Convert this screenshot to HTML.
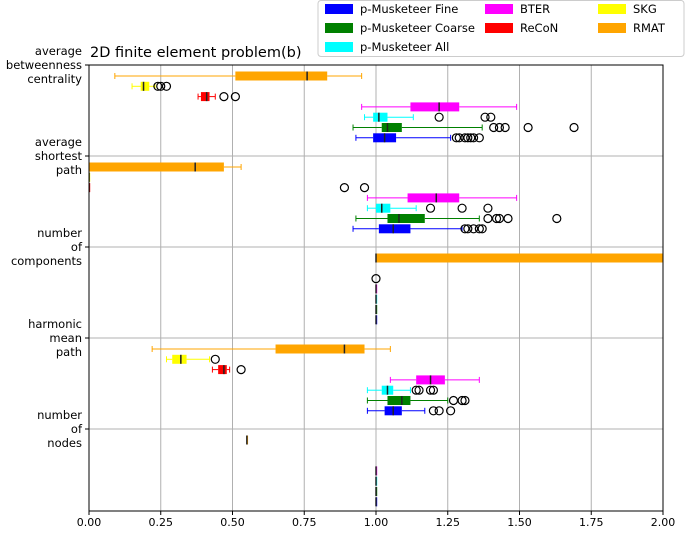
<!DOCTYPE html>
<html><head><meta charset="utf-8"><style>
body{margin:0;background:#fff;font-family:"Liberation Sans","DejaVu Sans",sans-serif}
</style></head><body>
<svg id="chart" width="685" height="531" xmlns="http://www.w3.org/2000/svg" font-family="DejaVu Sans, Liberation Sans, sans-serif">
<defs><clipPath id="plotclip"><rect x="89" y="65" width="574" height="446"/></clipPath></defs>
<rect width="685" height="531" fill="#fff"/>
<g id="grid"></g>
<g id="marks" clip-path="url(#plotclip)"></g>
<g id="axes"></g>
<text x="90" y="57" font-size="14.5" fill="#000">2D finite element problem(b)</text>
<g id="legend"></g>
</svg>
<script>
const metrics=["average betweenness centrality","average shortest path","number of components","harmonic mean path","number of nodes"];
const metricLines=[["average","betweenness","centrality"],["average","shortest","path"],["number","of","components"],["harmonic","mean","path"],["number","of","nodes"]];
const seriesNames=["RMAT","SKG","ReCoN","BTER","p-Musketeer All","p-Musketeer Coarse","p-Musketeer Fine"];
const seriesColors=["#ffa500","#ffff00","#ff0000","#ff00ff","#00ffff","#008000","#0000ff"];
const xTicks=[0,0.25,0.5,0.75,1.0,1.25,1.5,1.75,2.0];
const xTickLabels=["0.00","0.25","0.50","0.75","1.00","1.25","1.50","1.75","2.00"];
// [lo,q1,med,q3,hi] per metric per series (null = absent)
const statsBetweenness=[[0.09,0.51,0.76,0.83,0.95],[0.15,0.18,0.19,0.21,0.23],[0.38,0.39,0.41,0.42,0.44],[0.95,1.12,1.22,1.29,1.49],[0.96,0.99,1.01,1.04,1.13],[0.92,1.02,1.04,1.09,1.37],[0.93,0.99,1.03,1.07,1.26]];
const outBetweenness=[[],[0.24,0.25,0.27],[0.47,0.51],[],[1.22,1.38,1.40],[1.41,1.43,1.45,1.53,1.69],[1.28,1.29,1.31,1.32,1.33,1.34,1.36]];
const statsShortest=[[0,0,0.37,0.47,0.53],[0,0,0,0,0],[0,0,0,0,0],[0.97,1.11,1.21,1.29,1.49],[0.97,1.0,1.02,1.05,1.14],[0.93,1.04,1.08,1.17,1.36],[0.92,1.01,1.06,1.12,1.30]];
const outShortest=[[],[],[0.89,0.96],[],[1.19,1.30,1.39],[1.39,1.42,1.43,1.46,1.63],[1.31,1.32,1.34,1.36,1.37]];
const statsComponents=[[1,1,1,2.05,2.05],null,null,[1,1,1,1,1],[1,1,1,1,1],[1,1,1,1,1],[1,1,1,1,1]];
const outComponents=[[],[],[1.0],[],[],[],[]];
const statsHarmonic=[[0.22,0.65,0.89,0.96,1.05],[0.27,0.29,0.32,0.34,0.42],[0.43,0.45,0.47,0.48,0.49],[1.05,1.14,1.19,1.24,1.36],[0.97,1.02,1.04,1.06,1.12],[0.97,1.04,1.09,1.12,1.25],[0.97,1.03,1.06,1.09,1.17]];
const outHarmonic=[[],[0.44],[0.53],[],[1.14,1.15,1.19,1.20],[1.27,1.30,1.31],[1.20,1.22,1.26]];
const statsNodes=[[0.55,0.55,0.55,0.55,0.55],null,null,[1,1,1,1,1],[1,1,1,1,1],[1,1,1,1,1],[1,1,1,1,1]];
const outNodes=[[],[],[],[],[],[],[]];
const allStats=[statsBetweenness,statsShortest,statsComponents,statsHarmonic,statsNodes];
const allOut=[outBetweenness,outShortest,outComponents,outHarmonic,outNodes];

const X0=89,X1=663,Y0=65,Y1=511,GH=91;
const xs=v=>X0+(v/2)*(X1-X0);
const ys=(g,i)=>Y0+GH*g+11+i*10.3;
const NS="http://www.w3.org/2000/svg";
function mk(tag,attrs,parent){const e=document.createElementNS(NS,tag);for(const k in attrs)e.setAttribute(k,attrs[k]);parent.appendChild(e);return e;}
const grid=document.getElementById('grid'),marks=document.getElementById('marks'),axes=document.getElementById('axes'),legend=document.getElementById('legend');

xTicks.forEach((t,i)=>{
  const l=mk('line',{x1:xs(t),x2:xs(t),y1:Y0,y2:Y1,stroke:'#b0b0b0','stroke-width':1},grid);
  
  
  mk('line',{x1:xs(t),x2:xs(t),y1:Y1,y2:Y1+4,stroke:'#000'},axes);
  const tx=mk('text',{x:xs(t),y:Y1+15,'font-size':11,'text-anchor':'middle'},axes);
  tx.textContent=xTickLabels[i];
  
  
});
metrics.forEach((m,g)=>{
  const y=Y0+GH*g;
  const l=mk('line',{x1:X0,x2:X1,y1:y,y2:y,stroke:'#b0b0b0'},grid);
  
  
  mk('line',{x1:X0-4,x2:X0,y1:y,y2:y,stroke:'#000'},axes);
  const lines=metricLines[g];
  lines.forEach((s,k)=>{
    const tx=mk('text',{x:82,y:y+4+(k-1)*14,'font-size':11.5,'text-anchor':'end'},axes);
    tx.textContent=s;
    
    
  });
  allStats[g].forEach((st,i)=>{
    const yc=ys(g,i),c=seriesColors[i];
    if(st){
      const grp=mk('g',{},marks);
      
      
      mk('line',{x1:xs(st[0]),x2:xs(st[1]),y1:yc,y2:yc,stroke:c},grp);
      mk('line',{x1:xs(st[3]),x2:xs(st[4]),y1:yc,y2:yc,stroke:c},grp);
      if(st[4]-st[0]>0.005){
        mk('line',{x1:xs(st[0]),x2:xs(st[0]),y1:yc-3,y2:yc+3,stroke:c},grp);
        mk('line',{x1:xs(st[4]),x2:xs(st[4]),y1:yc-3,y2:yc+3,stroke:c},grp);
      }
      const w=Math.max(xs(st[3])-xs(st[1]),1.2);
      mk('rect',{x:xs(st[1]),y:yc-4.5,width:w,height:9,fill:c},grp);
      mk('line',{x1:xs(st[2]),x2:xs(st[2]),y1:yc-4.5,y2:yc+4.5,stroke:'#222','stroke-width':1.5},grp);
    }
    allOut[g][i].forEach(v=>{
      const o=mk('circle',{cx:xs(v),cy:yc,r:4,fill:'none',stroke:'#000','stroke-width':1.2},marks);
      
      
    });
  });
});
mk('rect',{x:X0,y:Y0,width:X1-X0,height:Y1-Y0,fill:'none',stroke:'#000','stroke-width':1},axes);

// legend
const lb=mk('rect',{x:318,y:0.5,width:366,height:56,fill:'#fff',stroke:'#ccc',rx:3},legend);


const legendOrder=[6,5,4,3,2,1,0];
const legPos=[[325,9],[325,28],[325,47],[485,9],[485,28],[598,9],[598,28]];
legendOrder.forEach((si,k)=>{
  const [lx,ly]=legPos[k];
  const g=mk('g',{},legend);
  
  
  mk('rect',{x:lx,y:ly-5,width:28,height:10,fill:seriesColors[si]},g);
  const t=mk('text',{x:lx+35,y:ly+4,'font-size':11.5},g);
  t.textContent=seriesNames[si];
});
</script>
</body></html>
